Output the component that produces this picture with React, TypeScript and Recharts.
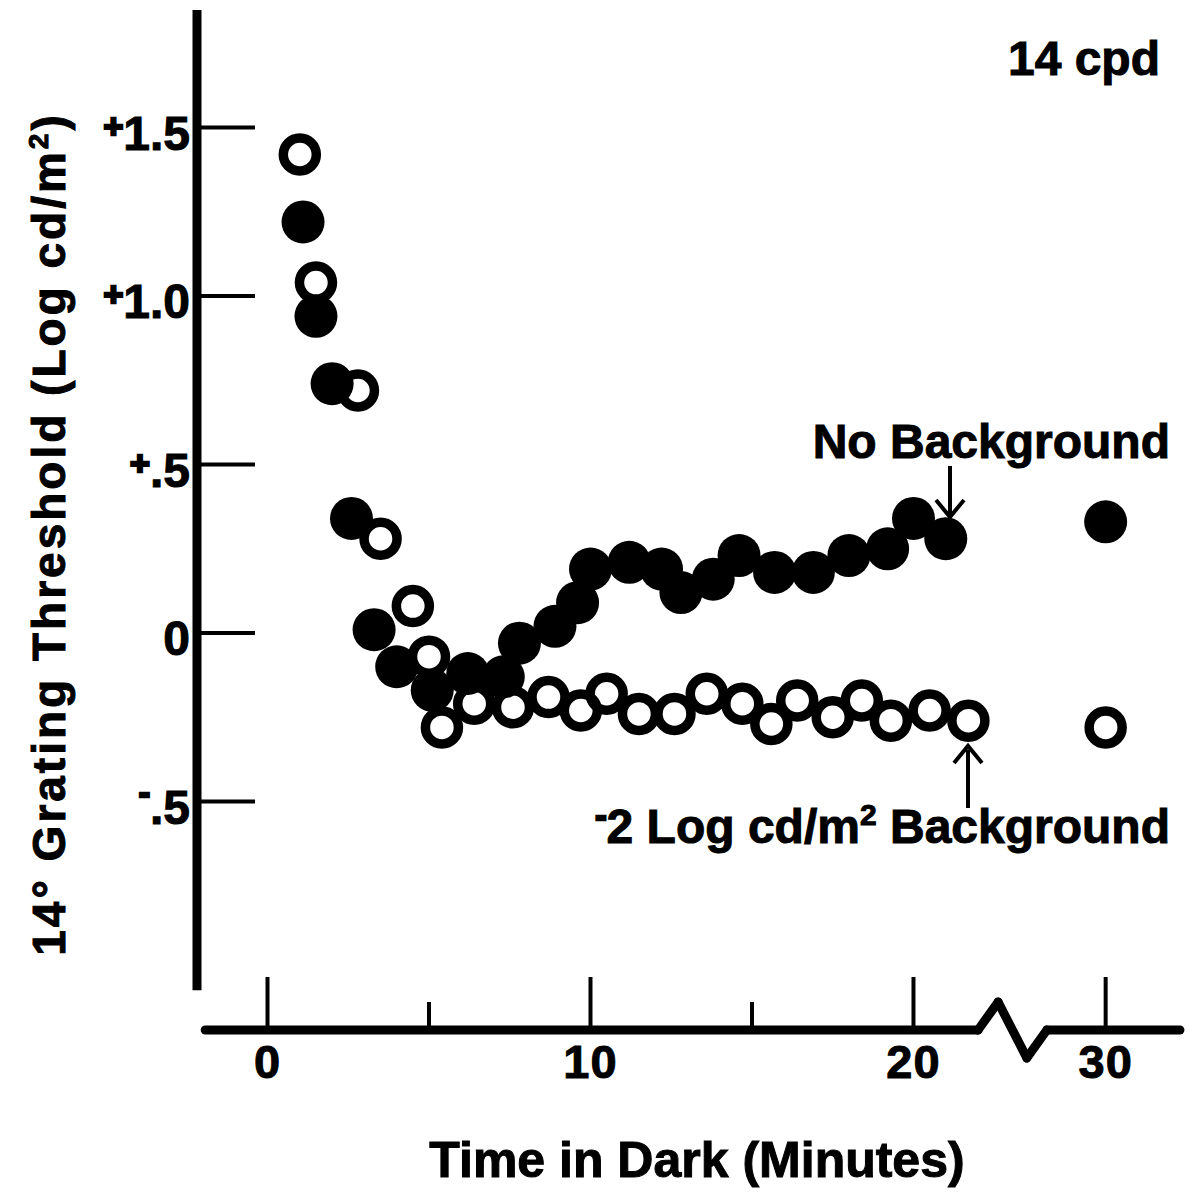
import { ReferenceLine, Scatter, ScatterChart, XAxis, YAxis } from "recharts";

// Threshold after entering the dark, no background (filled circles)
const MINUTES_NO_BG = [1.1, 1.5, 2.0, 2.6, 3.3, 4.0, 5.1, 6.2, 7.3, 7.8, 8.9, 9.6, 10.0, 11.2, 12.2, 12.8, 13.8, 14.6, 15.7, 16.9, 18.0, 19.2, 20.0, 21.0, 30];
const THRESHOLD_NO_BG = [1.22, 0.94, 0.74, 0.34, 0.01, -0.1, -0.17, -0.12, -0.13, -0.03, 0.02, 0.09, 0.19, 0.21, 0.19, 0.12, 0.16, 0.23, 0.18, 0.18, 0.23, 0.25, 0.34, 0.28, 0.33];

// Threshold with a -2 log cd/m2 background (open circles)
const MINUTES_BG = [1.0, 1.5, 2.8, 3.5, 4.5, 5.0, 5.4, 6.4, 7.6, 8.7, 9.7, 10.5, 11.5, 12.6, 13.6, 14.7, 15.6, 16.4, 17.5, 18.4, 19.3, 20.5, 21.7, 30];
const THRESHOLD_BG = [1.42, 1.04, 0.72, 0.28, 0.08, -0.07, -0.28, -0.21, -0.22, -0.19, -0.23, -0.18, -0.24, -0.24, -0.18, -0.21, -0.27, -0.2, -0.25, -0.2, -0.26, -0.23, -0.26, -0.28];

const X_TICKS = [0, 5, 10, 15, 20, 30];
const X_LABELLED = [0, 10, 20, 30];
const Y_TICKS = [1.5, 1.0, 0.5, 0, -0.5];
const Y_TICK_TEXT = ["1.5", "1.0", ".5", "0", ".5"];
const Y_TICK_SIGN = ["+", "+", "+", "", "-"];

// the time axis is broken between 20 and 30 minutes
const BREAK_AT = 23;
const BREAK_GAP = 4.05;
const toAxis = (m: number) => (m > BREAK_AT ? m - BREAK_GAP : m);

const W = 1189;
const H = 1194;
const X_MIN = -2.183;
const X_MAX = 28.19;
const Y_MIN = -1.178;
const Y_MAX = 1.849;
const Y_AXIS_END = -1.06;
const FONT = "'Liberation Sans', Arial, Helvetica, sans-serif";

const noBgData = MINUTES_NO_BG.map((m, i) => ({ x: toAxis(m), y: THRESHOLD_NO_BG[i] }));
const bgData = MINUTES_BG.map((m, i) => ({ x: toAxis(m), y: THRESHOLD_BG[i] }));

// heavy lettering: bold face plus a thin outline
const textStyle = {
  fontFamily: FONT,
  fontWeight: "bold" as const,
  fill: "#000",
  stroke: "#000",
  strokeWidth: 1,
};

function XTick(props: any) {
  const { x, y, payload } = props;
  const minute = X_TICKS.find((m) => Math.abs(toAxis(m) - payload.value) < 1e-6) ?? 0;
  const major = X_LABELLED.includes(minute);
  return (
    <g>
      <line x1={x} x2={x} y1={y} y2={y - (major ? 53 : 28)} stroke="#000" strokeWidth={4} />
      {major && (
        <text x={x} y={y + 48} textAnchor="middle" fontSize={47} letterSpacing={1} {...textStyle}>
          {minute}
        </text>
      )}
    </g>
  );
}

function YTick(props: any) {
  const { x, y, payload } = props;
  const i = Y_TICKS.findIndex((v) => Math.abs(v - payload.value) < 1e-6);
  if (i < 0) return null;
  const sign = Y_TICK_SIGN[i];
  // plus sits at tick height, minus a little higher
  const lift = sign === "-" ? 20 : 12;
  return (
    <g>
      <line x1={x} x2={x + 58} y1={y} y2={y} stroke="#000" strokeWidth={4} />
      <text x={x - 7} y={y + 22} textAnchor="end" fontSize={48} {...textStyle}>
        {sign && (
          <tspan fontSize={34} dy={-lift} strokeWidth={2.5}>
            {sign}
          </tspan>
        )}
        <tspan dy={sign ? lift : 0}>{Y_TICK_TEXT[i]}</tspan>
      </text>
    </g>
  );
}

const filledDot = (p: any) => <circle cx={p.cx} cy={p.cy} r={21.5} fill="#000" />;
const openDot = (p: any) => <circle cx={p.cx} cy={p.cy} r={16.5} fill="none" stroke="#000" strokeWidth={9.5} />;

// x-axis baseline with the zigzag break, in axis units
const AXIS_PATH = [
  { x: -1.93, y: Y_MIN },
  { x: 22.0, y: Y_MIN },
  { x: 22.62, y: -1.095 },
  { x: 23.51, y: -1.261 },
  { x: 24.13, y: Y_MIN },
  { x: 28.25, y: Y_MIN },
];

export default function App() {
  return (
    <div style={{ position: "absolute", left: 0, top: 0, width: W, height: H, background: "#fff" }}>
      <ScatterChart width={W} height={H} margin={{ top: 10, right: 11, bottom: 0, left: 0 }}>
        <XAxis
          type="number"
          dataKey="x"
          domain={[X_MIN, X_MAX]}
          allowDataOverflow
          ticks={X_TICKS.map(toAxis)}
          interval={0}
          axisLine={false}
          tickLine={false}
          tickSize={0}
          tickMargin={0}
          height={164}
          tick={<XTick />}
        />
        <YAxis
          type="number"
          dataKey="y"
          domain={[Y_MIN, Y_MAX]}
          allowDataOverflow
          ticks={Y_TICKS}
          interval={0}
          axisLine={false}
          tickLine={false}
          tickSize={0}
          tickMargin={0}
          width={197}
          tick={<YTick />}
        />
        <ReferenceLine
          segment={[
            { x: X_MIN, y: Y_AXIS_END },
            { x: X_MIN, y: Y_MAX },
          ]}
          stroke="#000"
          strokeWidth={9}
          ifOverflow="visible"
        />
        {AXIS_PATH.slice(1).map((p, i) => (
          <ReferenceLine
            key={i}
            segment={[AXIS_PATH[i], p]}
            stroke="#000"
            strokeWidth={9}
            strokeLinecap="round"
            ifOverflow="visible"
          />
        ))}
        <Scatter data={bgData} shape={openDot} isAnimationActive={false} />
        <Scatter data={noBgData} shape={filledDot} isAnimationActive={false} />
      </ScatterChart>

      <svg width={W} height={H} style={{ position: "absolute", left: 0, top: 0, pointerEvents: "none" }}>
        <text x={1160} y={75} textAnchor="end" fontSize={48} {...textStyle}>
          14 cpd
        </text>
        <text x={1170} y={458} textAnchor="end" fontSize={48} {...textStyle}>
          No Background
        </text>
        <line x1={950} x2={950} y1={466} y2={514} stroke="#000" strokeWidth={4} />
        <polyline points="936,500 950,517 964,500" fill="none" stroke="#000" strokeWidth={4} />

        <text x={1170} y={843} textAnchor="end" fontSize={48} {...textStyle}>
          <tspan fontSize={34} dy={-16} strokeWidth={2.5}>
            -
          </tspan>
          <tspan dy={16}>{"2 Log cd/m"}</tspan>
          <tspan fontSize={30} dy={-18}>
            2
          </tspan>
          <tspan dy={18}>{" Background"}</tspan>
        </text>
        <line x1={968} x2={968} y1={808} y2={750} stroke="#000" strokeWidth={4} />
        <polyline points="954,763 968,746 982,763" fill="none" stroke="#000" strokeWidth={4} />

        <text x={697} y={1177} textAnchor="middle" fontSize={50} {...textStyle}>
          Time in Dark (Minutes)
        </text>
        <text
          transform="translate(65,534) rotate(-90)"
          textAnchor="middle"
          fontSize={46}
          letterSpacing={3}
          {...textStyle}
        >
          <tspan>{"14\u00b0 Grating Threshold (Log cd/m"}</tspan>
          <tspan fontSize={28} dy={-17}>
            2
          </tspan>
          <tspan dy={17}>)</tspan>
        </text>
      </svg>
    </div>
  );
}
